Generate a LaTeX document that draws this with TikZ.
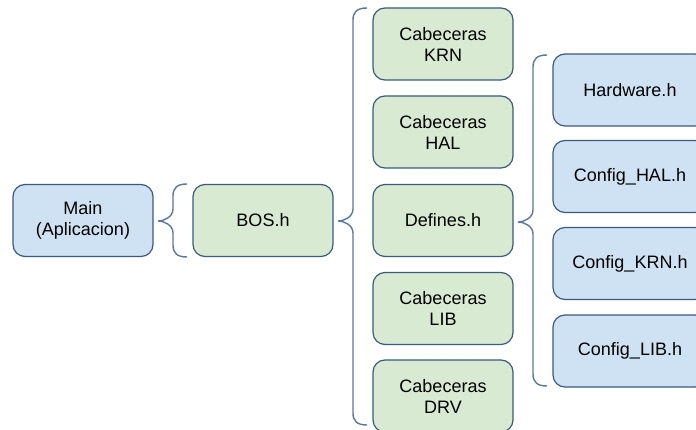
\documentclass[tikz,border=0pt]{standalone}
\usepackage{fontspec}
\setmainfont{Liberation Sans}
\definecolor{bluefill}{HTML}{CFE2F3}
\definecolor{greenfill}{HTML}{D9EAD3}
\definecolor{boxline}{HTML}{3A5A80}
\definecolor{braceline}{HTML}{5A7898}
\tikzset{
  box/.style={draw=boxline, line width=1.2pt, rounded corners=12pt,
    minimum width=140pt, minimum height=72pt, align=center,
    font=\fontsize{18}{21}\selectfont, inner sep=0pt},
  bluebox/.style={box, fill=bluefill},
  widebox/.style={bluebox, minimum width=154pt},
  greenbox/.style={box, fill=greenfill},
  bracestyle/.style={draw=braceline, line width=1.4pt}
}
\newcommand{\mybrace}[6]{%
  % tipx, vx, endx, top, mid, bot
  \draw[bracestyle] (#3,#4) .. controls (#2+4,#4) and (#2,#4+4) .. (#2,#4+12)
    -- (#2,#5-12) .. controls (#2,#5-4) and (#1+6,#5) .. (#1,#5)
    .. controls (#1+6,#5) and (#2,#5+4) .. (#2,#5+12)
    -- (#2,#6-12) .. controls (#2,#6-4) and (#2+4,#6) .. (#3,#6);}
\begin{document}
\begin{tikzpicture}[x=1pt,y=-1pt]
\useasboundingbox (0,0) rectangle (696,430);
\begin{scope}
\clip (0,0) rectangle (696,430);
\node[bluebox] (main) at (83,220.5) {Main\\(Aplicacion)};
\node[greenbox] (bos) at (263,220.5) {BOS.h};
\node[greenbox] (krn) at (443,44) {Cabeceras\\KRN};
\node[greenbox] (hal) at (443,132) {Cabeceras\\HAL};
\node[greenbox] (def) at (443,220.5) {Defines.h};
\node[greenbox] (lib) at (443,308.5) {Cabeceras\\LIB};
\node[greenbox] (drv) at (443,396) {Cabeceras\\DRV};
\node[widebox] (hw) at (630,90) {Hardware.h};
\node[widebox] (chal) at (630,176.5) {Config\_HAL.h};
\node[widebox] (ckrn) at (630,263.5) {Config\_KRN.h};
\node[widebox] (clib) at (630,351) {Config\_LIB.h};
\mybrace{158}{173}{187}{184}{221}{257}
\mybrace{338}{353}{367}{8}{221}{425}
\mybrace{518}{533}{547}{55}{222}{386}
\end{scope}
\end{tikzpicture}
\end{document}
